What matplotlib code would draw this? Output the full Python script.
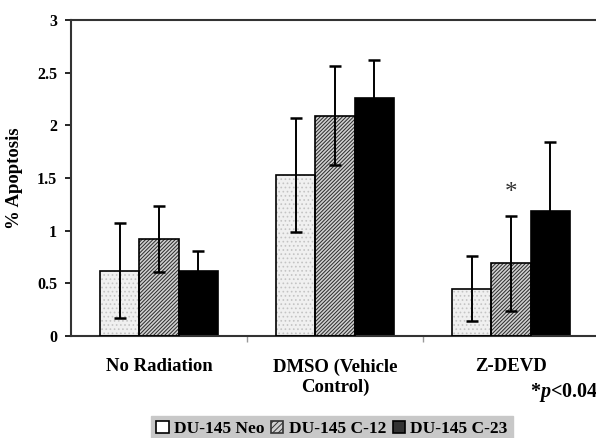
import numpy as np
import matplotlib
matplotlib.use('Agg')
import matplotlib.pyplot as plt
from matplotlib.ticker import FormatStrFormatter

plt.rcParams['font.family'] = ['Liberation Serif', 'DejaVu Serif']
plt.rcParams['font.weight'] = 'bold'
plt.rcParams['axes.labelweight'] = 'bold'
plt.rcParams['hatch.linewidth'] = 0.7
plt.rcParams['mathtext.fontset'] = 'custom'
plt.rcParams['mathtext.rm'] = 'Liberation Serif:bold'
plt.rcParams['mathtext.it'] = 'Liberation Serif:italic:bold'

# data
categories = ['No Radiation', 'DMSO (Vehicle\nControl)', 'Z-DEVD']
series = ['DU-145 Neo', 'DU-145 C-12', 'DU-145 C-23']
neo = [0.62, 1.53, 0.45]
neo_err = [0.45, 0.54, 0.31]
c12 = [0.92, 2.09, 0.69]
c12_err = [0.31, 0.47, 0.45]
c23 = [0.62, 2.26, 1.19]
c23_err = [0.19, 0.36, 0.65]

fig = plt.figure(figsize=(5.96, 4.38), dpi=100)
ax = fig.add_axes([71/596, 102/438, 528/596, 316/438])

x = np.arange(len(categories))
w = 0.223

# Neo: light stippled fill
ax.bar(x - w, neo, w, color='#f0f0f0', hatch='....', edgecolor='#c4c4c4', linewidth=0, zorder=2)
ax.bar(x - w, neo, w, fill=False, edgecolor='black', linewidth=1.2, zorder=3)
# C-12: dense diagonal hatch
ax.bar(x, c12, w, color='#d0d0d0', hatch='/////////', edgecolor='#2a2a2a', linewidth=0, zorder=2)
ax.bar(x, c12, w, fill=False, edgecolor='black', linewidth=1.2, zorder=3)
# C-23: solid black
ax.bar(x + w, c23, w, color='black', edgecolor='black', linewidth=1.2, zorder=2)

ekw = dict(fmt='none', ecolor='black', elinewidth=1.4, capsize=4, capthick=1.8, zorder=4)
ax.errorbar(x - w, neo, yerr=neo_err, **ekw)
ax.errorbar(x, c12, yerr=c12_err, **ekw)
ax.errorbar(x + w, c23, yerr=c23_err, **ekw)

# significance mark
ax.text(x[2], c12[2] + c12_err[2] + 0.22, '*', ha='center', va='center',
        fontsize=18, fontweight='normal', color='#333333')

ax.set_xlim(-0.5, 2.5)
ax.set_ylim(0, 3)
ax.set_yticks(np.arange(0, 3.01, 0.5))
ax.yaxis.set_major_formatter(FormatStrFormatter('%g'))
ax.set_xticks(x)
ax.set_xticklabels(categories, fontsize=13.5, va='top', linespacing=1.25, fontweight='bold')
ax.set_xticks([0.5, 1.5], minor=True)
ax.tick_params(axis='x', which='major', length=0, pad=16)
ax.tick_params(axis='x', which='minor', length=4, width=1, color='#999999')
ax.tick_params(axis='y', length=4, width=1.2, labelsize=11.5, pad=6)
for lab in ax.get_yticklabels():
    lab.set_fontweight('bold')
for s in ax.spines.values():
    s.set_linewidth(1.5)
    s.set_color('#333333')

ax.set_ylabel('% Apoptosis', fontsize=13.5, labelpad=10)

fig.text(530/596, 1 - 393/438, r'*$p$<0.04', fontsize=14.5, va='center', ha='left')

handles = [plt.Rectangle((0, 0), 1, 1, facecolor='white', edgecolor='black', linewidth=1.2),
           plt.Rectangle((0, 0), 1, 1, facecolor='#d0d0d0', hatch='//////', edgecolor='#333333', linewidth=1.2),
           plt.Rectangle((0, 0), 1, 1, facecolor='#333333', edgecolor='black', linewidth=1.2)]
leg = fig.legend(handles, series, loc='upper center', bbox_to_anchor=(332/596, 1 - 416/438),
                 ncol=3, frameon=True, fancybox=False, facecolor='#c8c8c8', edgecolor='#c8c8c8',
                 fontsize=12.5, handlelength=0.7, handleheight=0.7, handletextpad=0.3,
                 columnspacing=0.4, borderpad=0.3, borderaxespad=0)
leg.get_frame().set_alpha(1)

fig.savefig('out.png', dpi=100)
